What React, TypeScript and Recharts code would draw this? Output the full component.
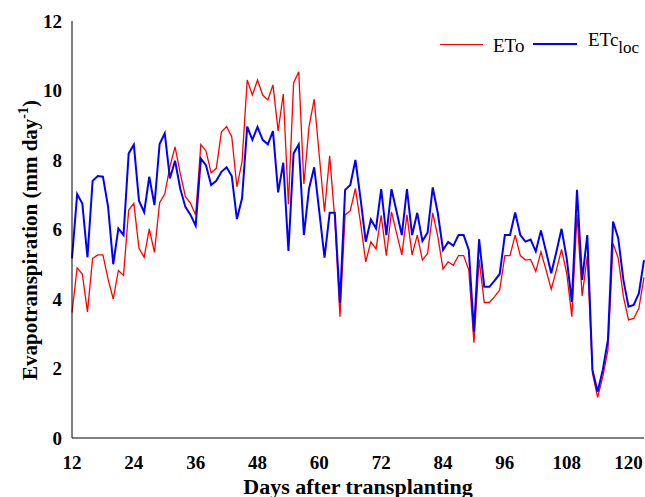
import React from 'react';
import { LineChart, Line, XAxis, YAxis, Legend } from 'recharts';

// ETo, daily values from day 12 to day 123 after transplanting (mm/day)
const etoValues = [
  3.61, 4.9, 4.72, 3.63, 5.17, 5.27, 5.27, 4.57, 4.0, 4.82,
  4.68, 6.56, 6.75, 5.46, 5.2, 6.02, 5.34, 6.77, 7.02, 7.81,
  8.38, 7.62, 6.95, 6.75, 6.42, 8.45, 8.26, 7.63, 7.76, 8.81,
  8.96, 8.67, 7.23, 7.95, 10.3, 9.87, 10.3, 9.87, 9.73, 10.16,
  8.84, 9.9, 6.73, 10.22, 10.54, 7.31, 8.96, 9.75, 8.1, 6.51,
  8.12, 6.3, 3.49, 6.42, 6.54, 7.18, 6.18, 5.07, 5.65, 5.44,
  6.41, 5.25, 6.51, 5.89, 5.27, 6.42, 5.27, 5.84, 5.12, 5.31,
  6.48, 5.79, 4.86, 5.07, 4.97, 5.25, 5.25, 4.83, 2.74, 5.14,
  3.9, 3.9, 4.07, 4.26, 5.25, 5.25, 5.84, 5.25, 5.12, 5.14,
  4.79, 5.36, 4.83, 4.28, 4.83, 5.43, 4.74, 3.49, 6.42, 4.09,
  5.24, 1.86, 1.17, 1.76, 2.53, 5.6, 5.17, 4.07, 3.4, 3.44,
  3.73, 4.62,
];

// ETc loc, same days
const etcValues = [
  5.17, 7.02, 6.75, 5.2, 7.4, 7.54, 7.52, 6.66, 5.0, 6.03,
  5.84, 8.19, 8.44, 6.83, 6.5, 7.52, 6.7, 8.46, 8.77, 7.47,
  7.98, 7.18, 6.65, 6.42, 6.11, 8.04, 7.85, 7.28, 7.4, 7.66,
  7.79, 7.54, 6.3, 6.9, 8.96, 8.58, 8.95, 8.58, 8.45, 8.83,
  7.07, 7.92, 5.38, 8.19, 8.45, 5.84, 7.18, 7.79, 6.5, 5.19,
  6.48, 6.48, 3.89, 7.14, 7.28, 8.0, 6.88, 5.65, 6.29, 6.03,
  7.16, 5.84, 7.16, 6.51, 5.84, 7.16, 5.84, 6.48, 5.67, 5.91,
  7.21, 6.46, 5.41, 5.64, 5.53, 5.84, 5.84, 5.41, 3.06, 5.72,
  4.35, 4.35, 4.53, 4.72, 5.84, 5.84, 6.49, 5.84, 5.65, 5.71,
  5.37, 5.97, 5.36, 4.74, 5.36, 6.02, 5.17, 3.92, 7.14, 4.55,
  5.84, 1.96, 1.33, 1.96, 2.82, 6.23, 5.75, 4.55, 3.78, 3.83,
  4.16, 5.12,
];

const firstDay = 12;
const lastDay = 123;
const xTicks = [12, 24, 36, 48, 60, 72, 84, 96, 108, 120];
const yTicks = [0, 2, 4, 6, 8, 10, 12];

const chartData = etoValues.map((eto, i) => ({
  day: firstDay + i,
  eto,
  etc: etcValues[i],
}));

const FONT = '"Liberation Serif", "Times New Roman", serif';

const tickStyle = { fill: '#000', fontSize: 19, fontWeight: 700, fontFamily: FONT };

const YTitle = () => (
  <text
    x={37}
    y={240}
    transform="rotate(-90 37 240)"
    textAnchor="middle"
    fill="#000"
    fontSize={21}
    fontWeight={700}
    fontFamily={FONT}
  >
    Evapotranspiration (mm day
    <tspan dy={-9} fontSize={14}>-1</tspan>
    <tspan dy={9}>)</tspan>
  </text>
);

const LegendBox = () => (
  <div style={{ position: 'relative', width: 220, height: 40, fontFamily: FONT, fontSize: 19, color: '#000' }}>
    <div style={{ position: 'absolute', left: 0, top: 23, width: 43, height: 0, borderTop: '1.5px solid #ff0000' }} />
    <span style={{ position: 'absolute', left: 53, top: 14, lineHeight: '22px' }}>ETo</span>
    <div style={{ position: 'absolute', left: 93, top: 22, width: 44, height: 0, borderTop: '2px solid #0000ff' }} />
    <span style={{ position: 'absolute', left: 148, top: 8, lineHeight: '22px', whiteSpace: 'nowrap' }}>
      ETc<sub style={{ fontSize: 17, verticalAlign: 'baseline', position: 'relative', top: 7 }}>loc</sub>
    </span>
  </div>
);

export default function App() {
  return (
    <div
      style={{
        position: 'fixed',
        left: 0,
        top: 0,
        width: 645,
        height: 497,
        overflow: 'hidden',
        background: '#fff',
      }}
    >
      <LineChart
        width={660}
        height={497}
        data={chartData}
        margin={{ top: 21, right: 16, bottom: 0, left: 0 }}
      >
        <XAxis
          dataKey="day"
          type="number"
          domain={[firstDay, lastDay]}
          ticks={xTicks}
          interval={0}
          height={59}
          axisLine={{ stroke: '#000', strokeWidth: 1 }}
          tickLine={false}
          tickSize={0}
          tickMargin={18}
          tick={tickStyle}
          label={{
            value: 'Days after transplanting',
            position: 'insideBottom',
            offset: 3,
            fill: '#000',
            fontSize: 22,
            fontWeight: 700,
            fontFamily: FONT,
          }}
        />
        <YAxis
          type="number"
          domain={[0, 12]}
          ticks={yTicks}
          interval={0}
          width={72}
          axisLine={{ stroke: '#000', strokeWidth: 1 }}
          tickLine={false}
          tickSize={0}
          tickMargin={10}
          tick={tickStyle}
          label={{ content: () => <YTitle /> }}
        />
        <Legend
          layout="vertical"
          align="center"
          verticalAlign="middle"
          content={() => <LegendBox />}
          wrapperStyle={{ left: 440, top: 21, width: 220, height: 40 }}
        />
        <Line
          type="linear"
          dataKey="eto"
          name="ETo"
          stroke="#ff0000"
          strokeWidth={1.3}
          dot={false}
          isAnimationActive={false}
        />
        <Line
          type="linear"
          dataKey="etc"
          name="ETc loc"
          stroke="#0000ff"
          strokeWidth={2}
          dot={false}
          isAnimationActive={false}
        />
      </LineChart>
    </div>
  );
}
